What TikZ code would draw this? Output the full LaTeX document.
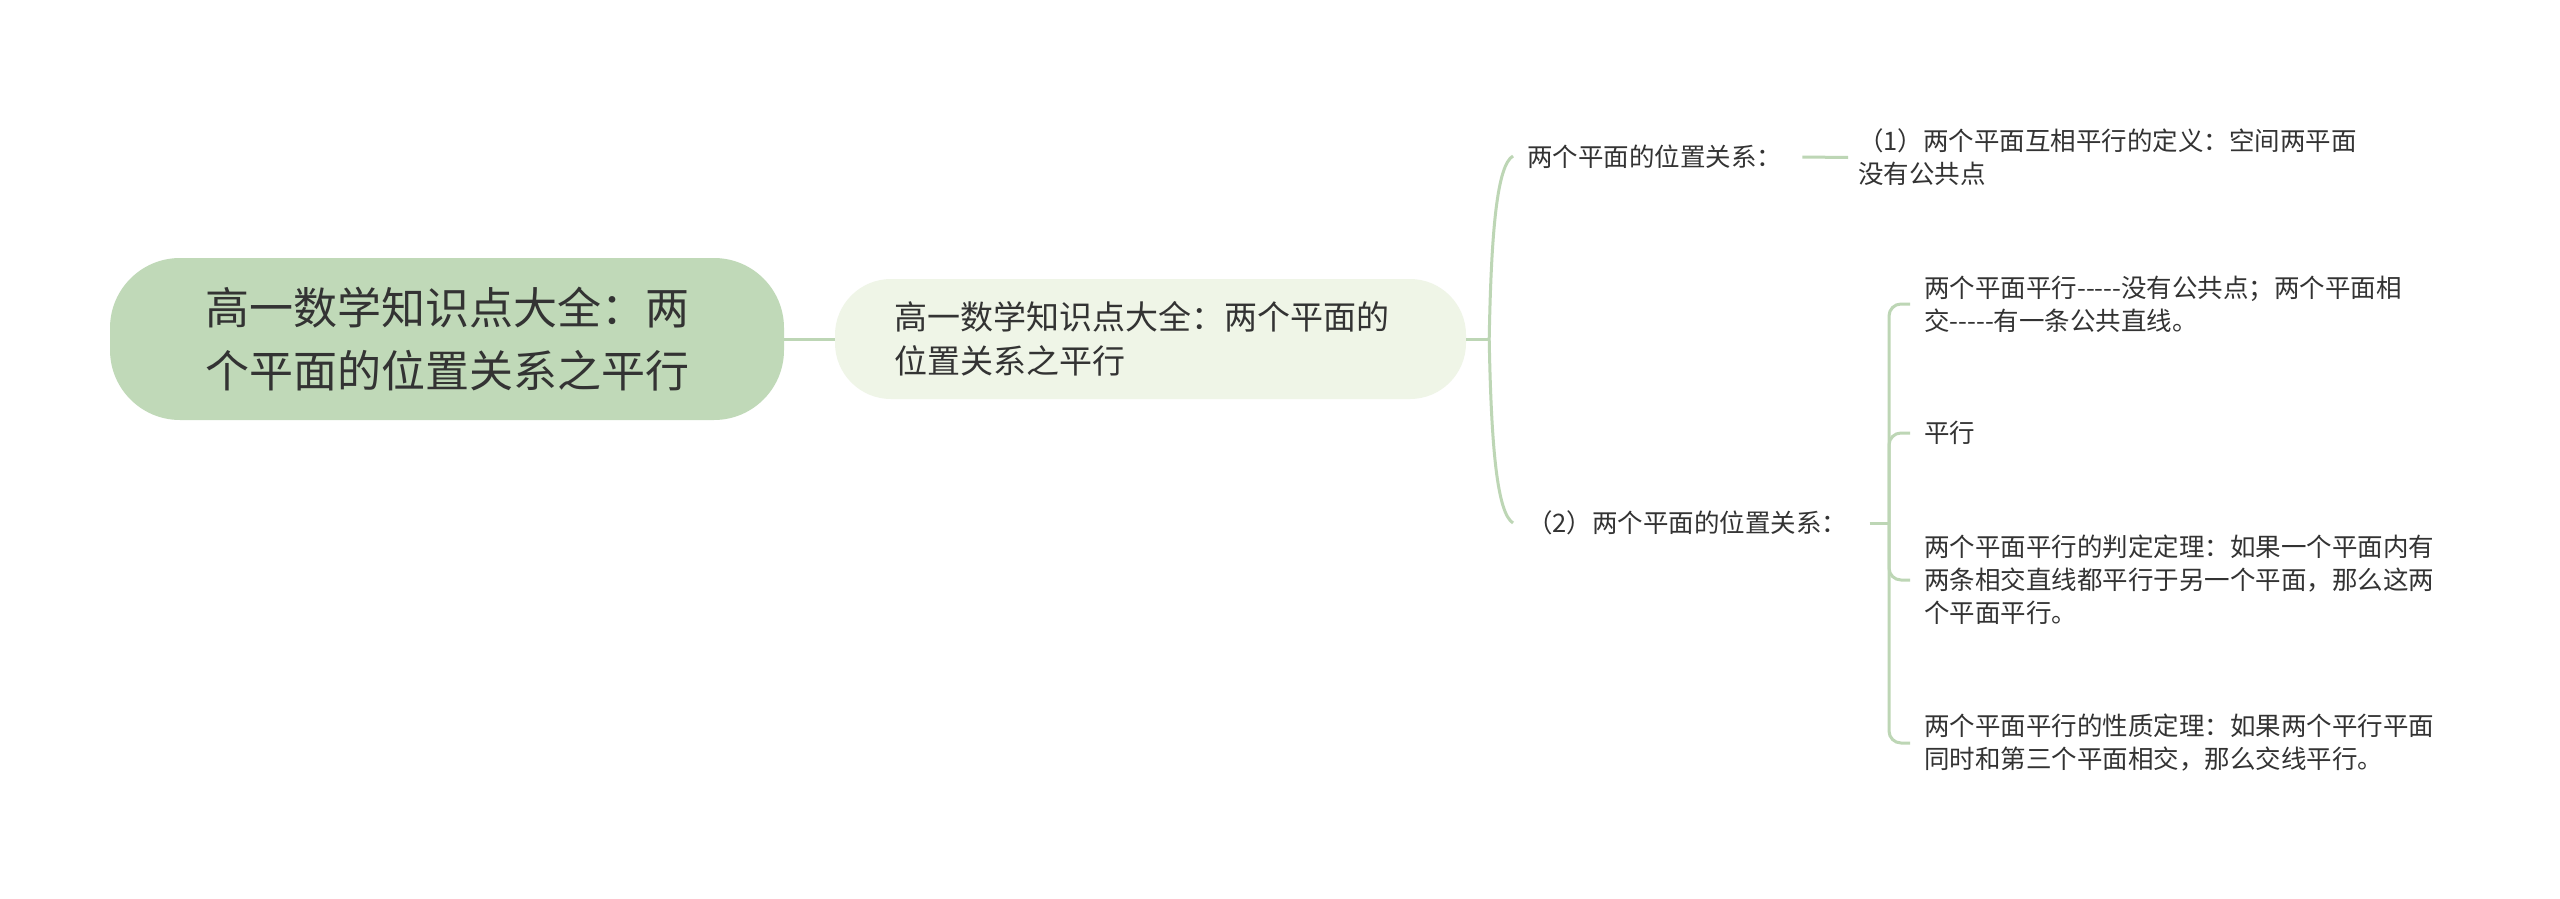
\documentclass[tikz,border=0pt]{standalone}
\usepackage{fontspec}
\setmainfont{Noto Sans CJK SC}[Ligatures=TeXOff]
\usetikzlibrary{calc}
\definecolor{rootfill}{HTML}{C0D9B8}
\definecolor{subfill}{HTML}{EFF5E7}
\definecolor{linec}{HTML}{BDD6B5}
\definecolor{txt}{HTML}{333333}
\begin{document}
\begin{tikzpicture}[x=1pt,y=-1pt,
  conn/.style={draw=linec,line width=3pt},
  leaf/.style={anchor=west,align=left,inner sep=0pt,text=txt,font=\fontsize{25.5}{33}\selectfont},
]
\useasboundingbox[fill=white] (0,0) rectangle (2560,899);
\node[fill=rootfill, rounded corners=70pt, minimum width=674pt, minimum height=162pt, inner sep=0pt, align=center, text=txt, font=\fontsize{44}{63}\selectfont] (root) at (447,339) {高一数学知识点大全：两\\个平面的位置关系之平行};
\node[fill=subfill, rounded corners=56pt, minimum width=631pt, minimum height=120pt, inner sep=0pt, text width=513pt, align=left, text=txt, font=\fontsize{33}{43.5}\selectfont] (sub) at (1150.5,339) {高一数学知识点大全：两个平面的\\位置关系之平行};

\node[leaf] (l1) at (1527,157) {两个平面的位置关系：};
\node[leaf] (d1) at (1858,157.5) {（1）两个平面互相平行的定义：空间两平面\\没有公共点};
\node[leaf] (l2) at (1527,523) {（2）两个平面的位置关系：};
\node[leaf] (c1) at (1924,304) {两个平面平行-----没有公共点；两个平面相\\交-----有一条公共直线。};
\node[leaf] (c2) at (1924,433) {平行};
\node[leaf] (c3) at (1924,580) {两个平面平行的判定定理：如果一个平面内有\\两条相交直线都平行于另一个平面，那么这两\\个平面平行。};
\node[leaf] (c4) at (1924,743) {两个平面平行的性质定理：如果两个平行平面\\同时和第三个平面相交，那么交线平行。};

\draw[conn] (root.east) -- (sub.west);
\coordinate (b1) at ($(sub.east)+(23,0)$);
\draw[conn] (sub.east) -- (b1);
\draw[conn] (b1) .. controls ($(b1)+(2,-109)$) and ($(b1)+(8,-174)$) .. ($(l1.west)+(-14,-1)$);
\draw[conn] (b1) .. controls ($(b1)+(2,109)$) and ($(b1)+(8,174)$) .. ($(l2.west)+(-14,0)$);
\draw[conn] ([xshift=20pt]l1.east) -- ([xshift=-10pt]d1.west);
\coordinate (b2) at ([xshift=-35pt]c1.west |- l2.west);
\draw[conn] ([xshift=22pt]l2.east) -- (b2);
\foreach \c in {c1,c2,c3,c4}
  \draw[conn, rounded corners=12pt] (b2) |- ([xshift=-14pt]\c.west);
\end{tikzpicture}
\end{document}
